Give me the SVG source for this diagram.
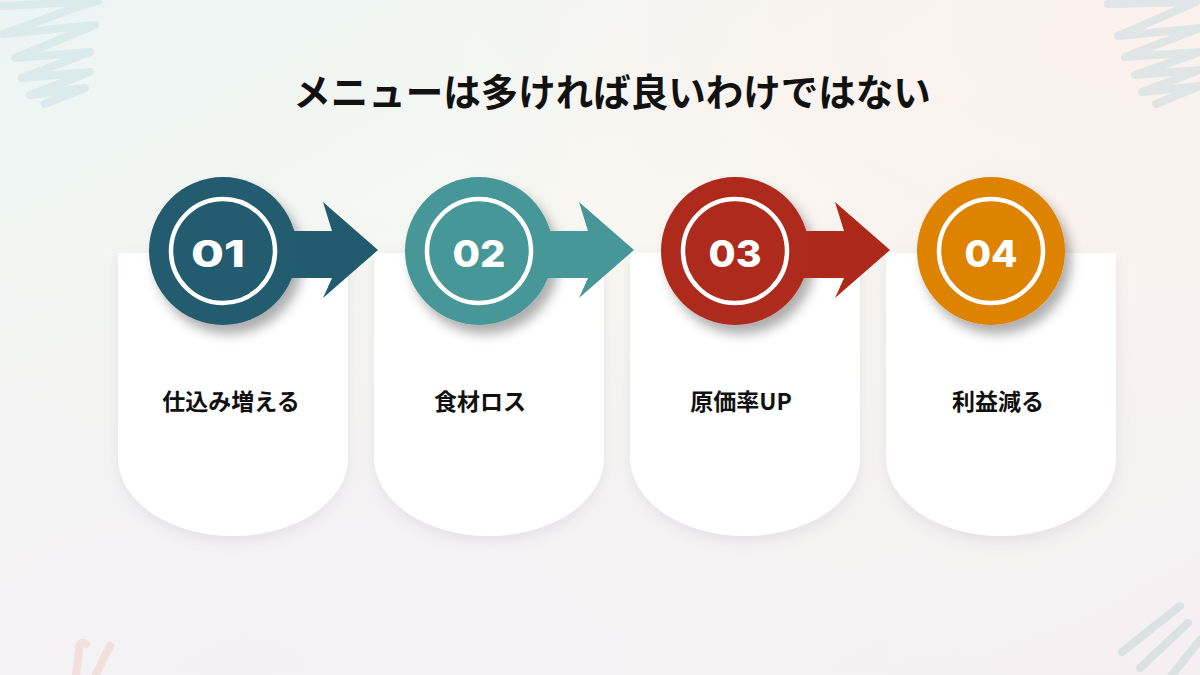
<svg xmlns="http://www.w3.org/2000/svg" width="1200" height="675" viewBox="0 0 1200 675">
  <defs>
    <linearGradient id="bg" x1="0" y1="0" x2="1" y2="1">
      <stop offset="0" stop-color="#ECF5F4"/>
      <stop offset="0.45" stop-color="#F8F7F1"/>
      <stop offset="1" stop-color="#F5EFF2"/>
    </linearGradient>
    <radialGradient id="warm" cx="0.95" cy="0.05" r="0.6">
      <stop offset="0" stop-color="#FBF1EE" stop-opacity="1"/>
      <stop offset="1" stop-color="#FBF1EE" stop-opacity="0"/>
    </radialGradient>
    <radialGradient id="lav" cx="0.2" cy="1" r="0.7">
      <stop offset="0" stop-color="#F3F1F6" stop-opacity="1"/>
      <stop offset="1" stop-color="#F3F1F6" stop-opacity="0"/>
    </radialGradient>
    <filter id="cardShadow" x="-20%" y="-20%" width="140%" height="140%">
      <feDropShadow dx="0" dy="5" stdDeviation="7" flood-color="#8a8a99" flood-opacity="0.16"/>
    </filter>
    <filter id="circleShadow" x="-30%" y="-30%" width="160%" height="160%">
      <feDropShadow dx="6" dy="9" stdDeviation="6" flood-color="#000" flood-opacity="0.32"/>
    </filter>
    <path id="card" d="M0,0 H230 V205 A115,78 0 0 1 0,205 Z"/>
    <path id="arrowShape" d="M0,-19 H42 L33,-48 L88,0 L33,48 L42,28 H0 Z"/>
  </defs>
  <style>
    .scrib { fill: none; stroke-linecap: round; stroke-linejoin: round; stroke-width: 8; stroke-opacity: 0.85; }
    .cardbg { fill: #FFFFFF; filter: url(#cardShadow); }
    .disc { filter: url(#circleShadow); }
    .ring { fill: none; stroke: #FFFFFF; stroke-width: 4.5; }
    .num { font-family: Inter, "Open Sans", "Liberation Sans", sans-serif; font-weight: 800; font-size: 37px; fill: #FFFFFF; text-anchor: middle; }
    .label { font-family: "Noto Sans CJK JP", "Noto Sans", sans-serif; font-weight: 700; font-size: 23px; fill: #111111; text-anchor: middle; }
    .title { font-family: "Noto Sans CJK JP", "Noto Sans", sans-serif; font-weight: 700; font-size: 37.5px; fill: #111111; text-anchor: middle; }
  </style>

  <rect width="1200" height="675" fill="url(#bg)"/>
  <rect width="1200" height="675" fill="url(#warm)"/>
  <rect width="1200" height="675" fill="url(#lav)"/>

  <g id="decor">
    <polyline class="scrib" stroke="#D7E7E7" points="2,6 98,1 80,6 3,34 95,25 15,58 90,52 22,78 90,72 30,95 85,88 45,104"/>
    <polyline class="scrib" stroke="#DAE3E3" points="1108,4 1196,2 1118,36 1200,28 1125,57 1200,52 1135,75 1200,70 1142,92 1200,86 1156,104"/>
    <path class="scrib" stroke="#F0DDD6" stroke-width="6" d="M76,675 Q78,660 79,648 Q80,640 86,644"/>
    <path class="scrib" stroke="#F0DDD6" stroke-width="6" d="M110,646 Q102,660 96,675"/>
    <polyline class="scrib" stroke="#D6DFE1" points="1180,606 1122,652"/>
    <polyline class="scrib" stroke="#D6DFE1" points="1188,623 1140,668"/>
    <polyline class="scrib" stroke="#D6DFE1" points="1200,640 1172,675"/>
  </g>

  <text class="title" x="612" y="106">メニューは多ければ良いわけではない</text>

  <g id="node1">
    <use href="#card" class="cardbg" x="118" y="253"/>
    <circle class="disc" cx="223" cy="251" r="74" fill="#235B6E"/>
    <circle class="ring" cx="223" cy="251" r="52"/>
    <text class="num" x="218" y="267" textLength="54" lengthAdjust="spacingAndGlyphs">01</text>
    <text class="label" x="231" y="410">仕込み増える</text>
  </g>
  <g id="node2">
    <use href="#card" class="cardbg" x="374" y="253"/>
    <circle class="disc" cx="479" cy="251" r="74" fill="#479798"/>
    <circle class="ring" cx="479" cy="251" r="52"/>
    <text class="num" x="479" y="267" textLength="53" lengthAdjust="spacingAndGlyphs">02</text>
    <text class="label" x="480" y="410">食材ロス</text>
  </g>
  <g id="node3">
    <use href="#card" class="cardbg" x="630" y="253"/>
    <circle class="disc" cx="735" cy="251" r="74" fill="#AD2A1B"/>
    <circle class="ring" cx="735" cy="251" r="52"/>
    <text class="num" x="735" y="267" textLength="53" lengthAdjust="spacingAndGlyphs">03</text>
    <text class="label" x="741" y="410">原価率UP</text>
  </g>
  <g id="node4">
    <use href="#card" class="cardbg" x="886" y="253"/>
    <circle class="disc" cx="991" cy="251" r="74" fill="#DE8305"/>
    <circle class="ring" cx="991" cy="251" r="52"/>
    <text class="num" x="991" y="267" textLength="53" lengthAdjust="spacingAndGlyphs">04</text>
    <text class="label" x="998" y="410">利益減る</text>
  </g>

  <g id="connectors">
    <use href="#arrowShape" x="290" y="250" fill="#235B6E"/>
    <use href="#arrowShape" x="546" y="250" fill="#479798"/>
    <use href="#arrowShape" x="802" y="250" fill="#AD2A1B"/>
  </g>
</svg>
